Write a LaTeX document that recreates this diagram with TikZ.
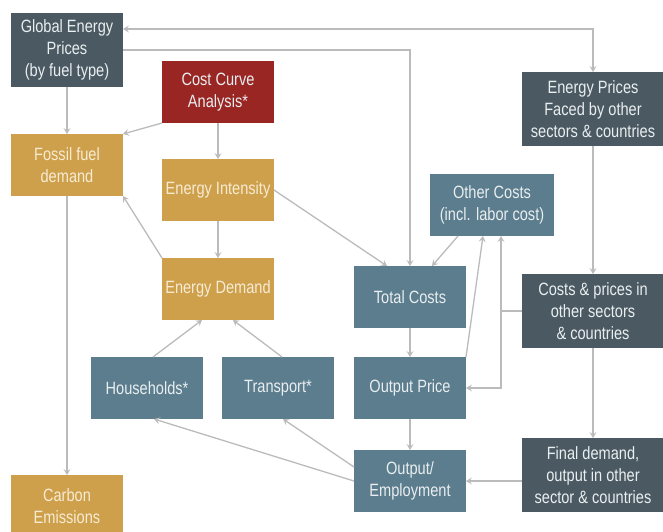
\documentclass[tikz,border=0pt]{standalone}
\usepackage{fontspec}
\setmainfont[FakeStretch=0.82]{Liberation Sans}
\usetikzlibrary{arrows.meta,calc}
\definecolor{slate}{HTML}{4B5A62}
\definecolor{brick}{HTML}{9A2624}
\definecolor{gold}{HTML}{CFA04B}
\definecolor{teal}{HTML}{5B7D8D}
\definecolor{conn}{HTML}{BBBBBB}
\definecolor{cream}{HTML}{F6EBD3}
\definecolor{pale}{HTML}{E9EEF0}
\begin{document}
\begin{tikzpicture}[x=1pt,y=-1pt,
  box/.style={inner sep=0pt,outer sep=0pt,align=center,minimum width=112pt,minimum height=62pt,
    font=\fontsize{17.8}{22}\selectfont},
  slatebox/.style={box,fill=slate,text=pale},
  redbox/.style={box,fill=brick,text=pale},
  goldbox/.style={box,fill=gold,text=cream},
  tealbox/.style={box,fill=teal,text=pale},
  conn/.style={draw=conn,line width=1.3pt},
  arr/.style={conn,-{Stealth[length=6pt,width=7pt,inset=2.5pt]}},
  darr/.style={conn,{Stealth[length=6pt,width=7pt,inset=2.5pt]}-{Stealth[length=6pt,width=7pt,inset=2.5pt]}}]
\useasboundingbox (0,0) rectangle (663,531);
\fill[white] (0,0) rectangle (663,531);
% nodes
\node[slatebox,minimum height=74pt] (global) at (67,50) {Global Energy\\Prices\\(by fuel type)};
\node[redbox] (cost) at (218,92) {Cost Curve\\Analysis*};
\node[goldbox] (fossil) at (67,165) {Fossil fuel\\demand};
\node[goldbox] (eint) at (218,190) {Energy Intensity};
\node[goldbox] (edemand) at (218,289) {Energy Demand};
\node[tealbox] (house) at (147,388) {Households*};
\node[tealbox] (trans) at (278,388) {Transport*};
\node[goldbox] (carbon) at (67,506) {Carbon\\Emissions};
\node[tealbox] (total) at (410,297) {Total Costs};
\node[tealbox] (oprice) at (410,388) {Output Price};
\node[tealbox] (out) at (410,481) {Output/\\Employment};
\node[tealbox,minimum width=124pt] (other) at (492,205) {Other Costs\\(incl. labor cost)};
\node[slatebox,minimum width=142pt,minimum height=74pt] (eprices) at (593,109) {Energy Prices\\Faced by other\\sectors \& countries};
\node[slatebox,minimum width=142pt,minimum height=74pt] (costs) at (593,311) {Costs \& prices in\\other sectors\\\& countries};
\node[slatebox,minimum width=142pt,minimum height=74pt] (final) at (593,475) {Final demand,\\output in other\\sector \& countries};
% connectors
\draw[arr] (global.south) -- (fossil.north);
\draw[arr] (cost.south west) -- (fossil.north east);
\draw[arr] (cost.south) -- (eint.north);
\draw[arr] (eint.south) -- (edemand.north);
\draw[arr] (edemand.north west) -- (fossil.south east);
\draw[arr] (fossil.south) -- (carbon.north);
\draw[arr] (eint.east) -- ([xshift=-23pt]total.north);
\draw[arr] (global.east) -| (total.north);
\draw[darr] ([yshift=21pt]global.east) -| (eprices.north);
\draw[arr] ([xshift=-34pt]other.south) -- ([xshift=22pt]total.north);
\draw[arr] (oprice.north east) -- ([xshift=-9pt]other.south);
\coordinate (j) at ([xshift=-21pt]costs.west);
\draw[conn] (costs.west) -- (j);
\draw[arr] (j) -- (j |- other.south);
\draw[arr] (j) |- (oprice.east);
\draw[arr] (eprices.south) -- (costs.north);
\draw[arr] (costs.south) -- (final.north);
\draw[arr] (out.east -| final.west) -- (out.east);
\draw[arr] (total.south) -- (oprice.north);
\draw[arr] (oprice.south) -- (out.north);
\draw[arr] (out.west) -- ([xshift=7pt]house.south);
\draw[arr] ([yshift=14pt]out.west) -- ([xshift=5pt]trans.south);
\draw[arr] ([xshift=6pt]house.north) -- ([xshift=-16pt]edemand.south);
\draw[arr] ([xshift=4pt]trans.north) -- ([xshift=15pt]edemand.south);
\end{tikzpicture}
\end{document}
